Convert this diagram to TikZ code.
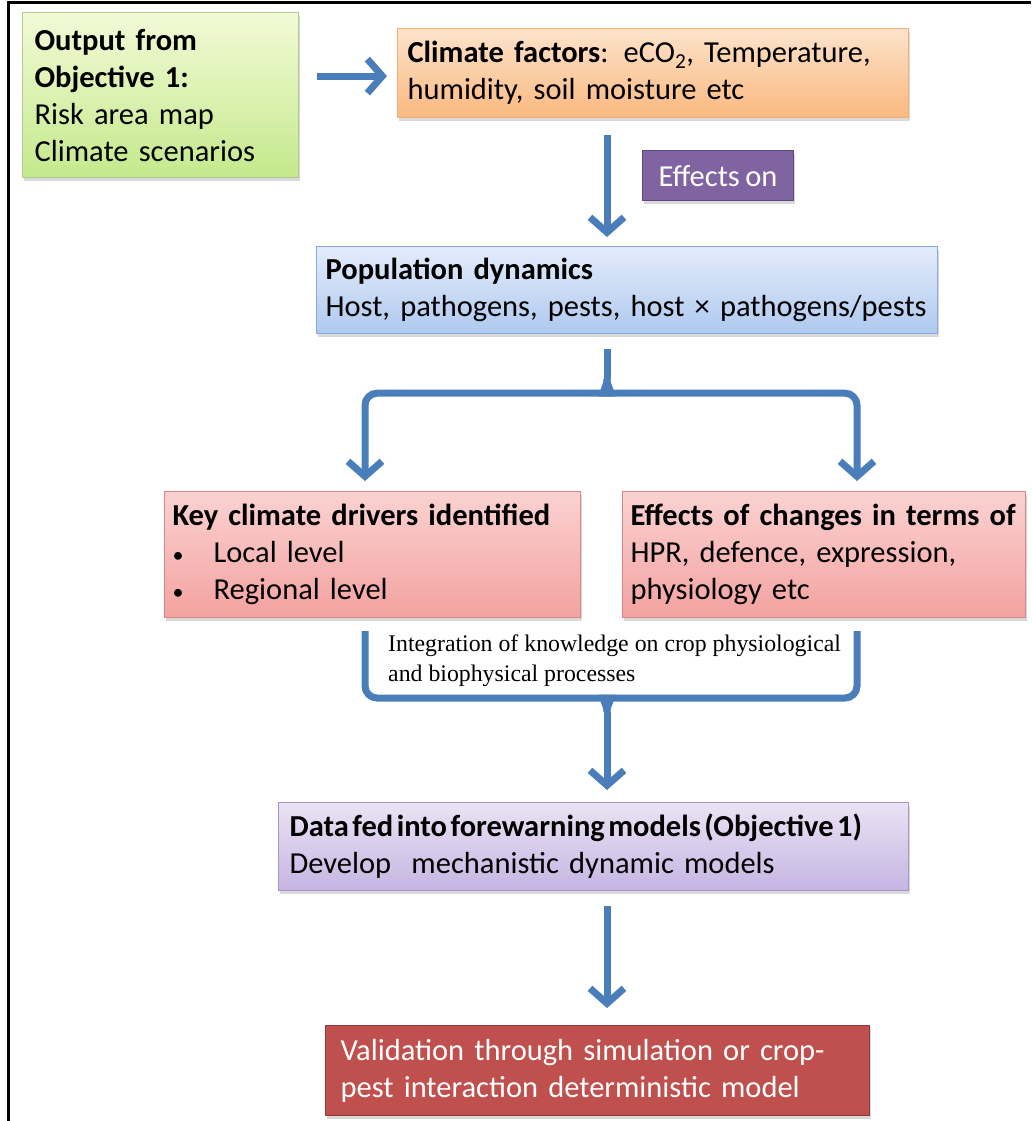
\documentclass[tikz,border=0pt]{standalone}
\usepackage{fontspec}
\setmainfont{Carlito}
\newfontfamily\serifnote{Liberation Serif}
\usetikzlibrary{arrows.meta,shadows,calc}
\definecolor{flowblue}{HTML}{4A7EBB}
\definecolor{outtop}{HTML}{F2FAD6}
\definecolor{outbot}{HTML}{C4E98C}
\definecolor{outline}{HTML}{B3CB8C}
\definecolor{climtop}{HTML}{FDE3CB}
\definecolor{climbot}{HTML}{FAB97F}
\definecolor{climline}{HTML}{F5AE74}
\definecolor{efffill}{HTML}{8064A2}
\definecolor{effline}{HTML}{5E4A7E}
\definecolor{poptop}{HTML}{E3ECFA}
\definecolor{popbot}{HTML}{AFC9F0}
\definecolor{popline}{HTML}{88A9DD}
\definecolor{pinktop}{HTML}{FAD2D1}
\definecolor{pinkbot}{HTML}{F3A2A0}
\definecolor{pinkline}{HTML}{D98583}
\definecolor{fedtop}{HTML}{EAE3F4}
\definecolor{fedbot}{HTML}{C6B5E2}
\definecolor{fedline}{HTML}{A795C9}
\definecolor{valfill}{HTML}{C0504D}
\definecolor{valline}{HTML}{8E3A38}
\newcommand{\boxfont}{\fontsize{30.5}{37}\selectfont\spaceskip=5.5pt plus 2pt minus 1pt\relax}
\newcommand{\bul}{\makebox[41pt][l]{\fontsize{22}{22}\selectfont\textbullet}}
\tikzstyle{box} = [rectangle, draw, line width=1.2pt, anchor=north west, align=left, inner xsep=10pt, inner ysep=0pt, font=\boxfont, drop shadow={shadow xshift=1.5pt, shadow yshift=-3pt, opacity=.3}]
\tikzstyle{flow} = [draw=flowblue, line width=7pt, rounded corners=12pt, -{Straight Barb[length=15pt,width=34pt]}]
\tikzstyle{brace} = [draw=flowblue, line width=7pt, rounded corners=12pt]

\begin{document}
\begin{tikzpicture}[x=1pt, y=-1pt]
\useasboundingbox (0,0) rectangle (1031,1121);
\draw[line width=3pt] (1031,3) -- (8,3) -- (8,1121);

\node[box, inner xsep=12pt, text width=252pt, minimum height=165pt, top color=outtop, bottom color=outbot, draw=outline] (outp) at (22,12)
  {\textbf{Output from}\\\textbf{Objective 1:}\\Risk area map\\Climate scenarios};
\node[box, text width=491pt, minimum height=89pt, top color=climtop, bottom color=climbot, draw=climline] (clim) at (397,28)
  {\textbf{Climate factors}: eCO\textsubscript{2}, Temperature,\\humidity, soil moisture etc};
\node[box, align=center, minimum width=151pt, minimum height=50pt, fill=efffill, draw=effline, text=white] (eff) at (642,150) {Effects on};
\node[box, inner xsep=9pt, text width=603pt, minimum height=87pt, top color=poptop, bottom color=popbot, draw=popline] (popd) at (316,246)
  {\textbf{Population dynamics}\\Host, pathogens, pests, host × pathogens/pests};
\node[box, inner xsep=8pt, text width=400pt, minimum height=126pt, top color=pinktop, bottom color=pinkbot, draw=pinkline] (drivers) at (164,491)
  {\textbf{Key climate drivers identified}\\\bul Local level\\\bul Regional level};
\node[box, inner xsep=8pt, text width=387pt, minimum height=126pt, top color=pinktop, bottom color=pinkbot, draw=pinkline] (changes) at (622,491)
  {\textbf{Effects of changes in terms of}\\HPR, defence, expression,\\physiology etc};
\node[anchor=north west, align=left, inner sep=0pt, font=\serifnote\fontsize{23.8}{30}\selectfont] (integ) at (388,635)
  {Integration of knowledge on crop physiological\\and biophysical processes};
\node[box, inner xsep=11pt, text width=608pt, minimum height=88pt, top color=fedtop, bottom color=fedbot, draw=fedline] (fedm) at (278,802)
  {{\spaceskip=3.5pt\relax\textbf{Data fed into forewarning models (Objective 1)}}\\Develop\ \ mechanistic dynamic models};
\node[box, inner xsep=15pt, text width=514pt, minimum height=90pt, fill=valfill, draw=valline, text=white] (valid) at (325,1025)
  {Validation through simulation or crop-\\pest interaction deterministic model};

\coordinate (spine) at (607,0);
\coordinate (legL) at (365,0);
\coordinate (legR) at (857,0);
\coordinate (forkA) at ($(popd.south -| spine)+(0,45)$);
\coordinate (forkB) at ($(spine)+(0,712)$);

\draw[flow] ($(outp.east |- clim.west)+(18,3)$) -- ($(clim.west)+(-10,3)$);
\draw[flow] ($(clim.south -| spine)+(0,17)$) -- ($(popd.north -| spine)+(0,-9)$);
\draw[brace] ($(popd.south -| spine)+(0,15)$) -- (forkA);
\draw[flow] (forkA) to[out=-90,in=0] ++(-14,14) -| ($(drivers.north -| legL)+(0,-10)$);
\draw[flow] (forkA) to[out=-90,in=180] ++(14,14) -| ($(changes.north -| legR)+(0,-10)$);
\draw[brace] ($(drivers.south -| legL)+(0,13)$) |- ($(forkB)+(-14,-14)$) to[out=0,in=90] (forkB);
\draw[brace] ($(changes.south -| legR)+(0,13)$) |- ($(forkB)+(14,-14)$) to[out=180,in=90] (forkB);
\draw[flow] (forkB) -- ($(fedm.north -| spine)+(0,-12)$);
\draw[flow] ($(fedm.south -| spine)+(0,15)$) -- ($(valid.north -| spine)+(0,-17)$);
\end{tikzpicture}
\end{document}
